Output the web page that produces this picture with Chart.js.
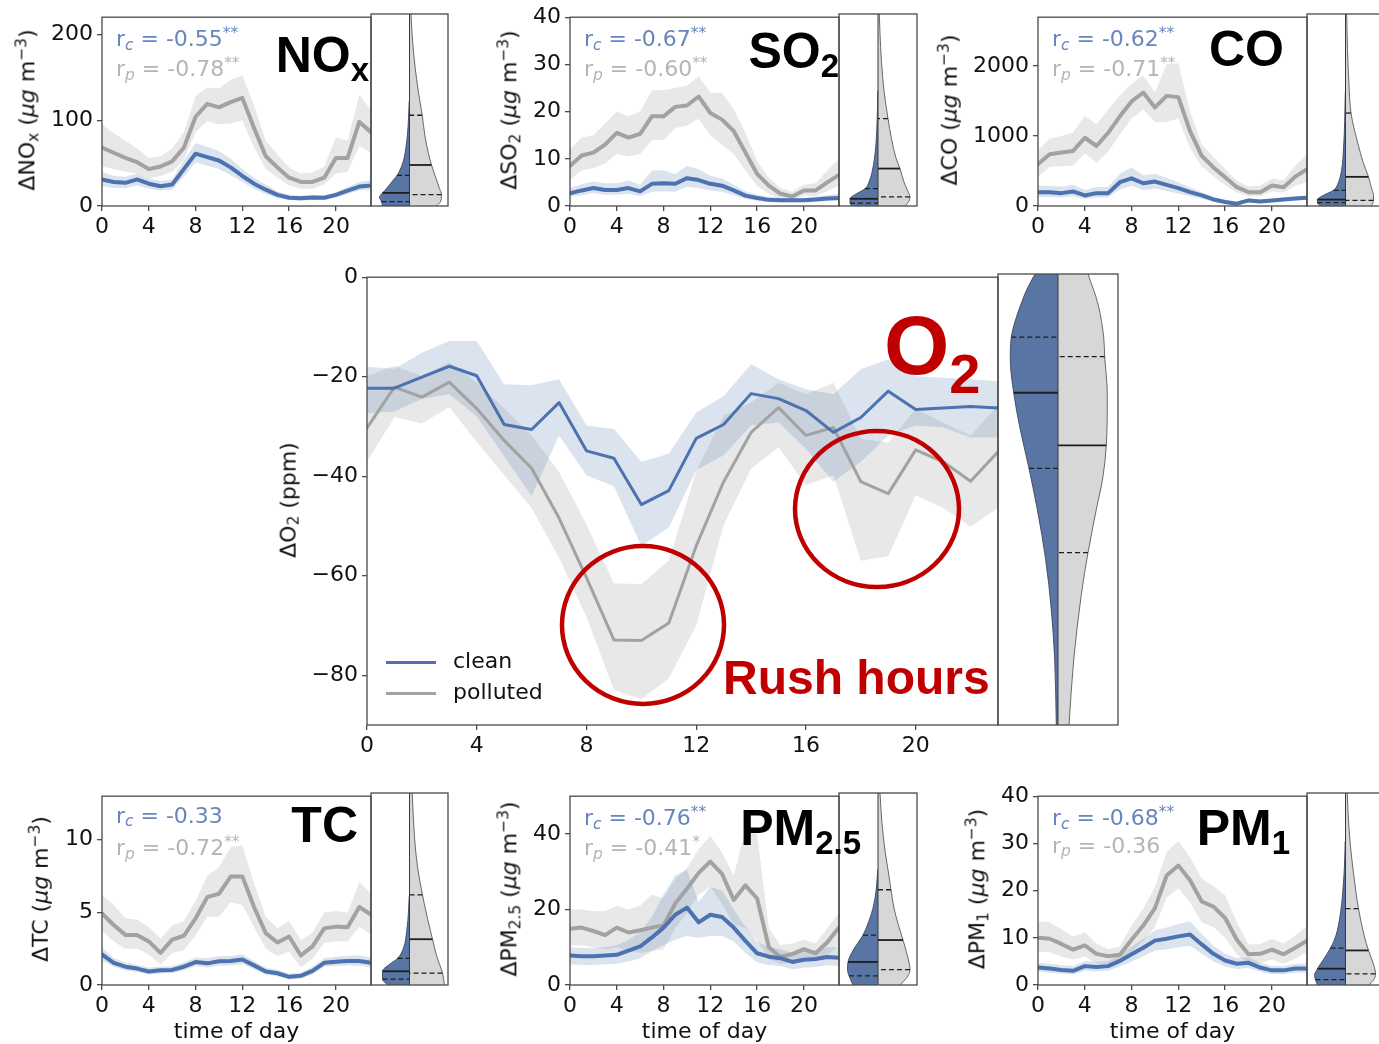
<!DOCTYPE html>
<html lang="en">
<head>
<meta charset="utf-8">
<title>Diurnal cycles of ΔO2 and co-emitted pollutants, clean vs polluted days</title>
<script src="https://cdn.jsdelivr.net/npm/chart.js@4.4.1/dist/chart.umd.min.js"></script>
<style>
  html, body { margin: 0; padding: 0; background: #fff; overflow: hidden; }
  #fig { position: relative; width: 1379px; height: 1044px; overflow: hidden; background: #fff; }
  #fig canvas { position: absolute; }
  #fig svg { position: absolute; left: 0; top: 0; }
  .txt { position: absolute; white-space: nowrap; line-height: 1; font-family: "DejaVu Sans", sans-serif; font-size: 22px; color: #111; }
  .ttl { font-family: "Liberation Sans", Arial, sans-serif; font-weight: bold; color: #000; }
  .red { color: #C00000; }
  .sub { font-size: 0.7em; vertical-align: -0.22em; }
  .sup { font-size: 0.7em; vertical-align: 0.55em; }
  .key { position: absolute; height: 3px; }
</style>
</head>
<body>
<div id="fig"></div>
<script>
// ---------------- data ----------------
const HOURS = [0,1,2,3,4,5,6,7,8,9,10,11,12,13,14,15,16,17,18,19,20,21,22,23];
const X_TICKS = [0, 4, 8, 12, 16, 20];

// NOx (µg m-3)
const NOX_CLEAN    = [31,28,27,31,26,23,25,43,61,57,53,45,35,26,19,13,9.6,9,10,9.6,13,18,22.6,24];
const NOX_CLEAN_HI = [40,35,34,38,32,29,31,53,73,69,64,55,43,33,25,17,13,12,13,12,16,22,28,30];
const NOX_CLEAN_LO = [23,21,21,24,20,18,19,34,51,47,43,36,28,20,14,9,7,6,7,7,10,14,18,19];
const NOX_POLL     = [68,62,56,51,43,46,52,68,104,119,115,121,126,91,58,45,33,28,28,33,56,56,98,86];
const NOX_POLL_HI  = [95,85,76,67,56,58,67,86,128,138,137,147,152,117,76,60,45,38,39,46,80,76,130,112];
const NOX_POLL_LO  = [46,43,40,38,32,35,40,54,86,99,95,96,100,68,43,33,24,20,20,25,38,40,70,62];
const NOX_Y_TICKS  = [0, 100, 200];
const NOX_R        = ['-0.55', '**', '-0.78', '**'];
const NOX_VIO_CLEAN = [[0,27],[5,28],[10,30],[15,27],[20,23],[30,16],[35,12.5],[40,10],[50,6.5],[60,4.5],[80,2.2],[100,1],[120,0.3]];
const NOX_VIO_POLL  = [[0,27],[5,31],[13,32],[20,30],[30,27],[47,22],[60,19],[80,15.5],[104,12.7],[130,9],[160,5.5],[190,3],[220,1.5]];
const NOX_Q_CLEAN   = [[5,28],[15,27],[35,12.5]];
const NOX_Q_POLL    = [[13,32],[47,22],[104,12.7]];

// SO2 (µg m-3)
const SO2_CLEAN    = [2.7,3.3,3.8,3.4,3.4,3.8,3.1,4.7,4.8,4.7,5.9,5.5,4.7,4.3,3.3,2.2,1.7,1.3,1.2,1.2,1.2,1.4,1.6,1.7];
const SO2_CLEAN_HI = [3.8,4.6,5.2,4.8,4.8,5.4,4.5,7.5,7.6,6.8,8.5,7.8,6.4,5.8,4.5,3.1,2.4,1.9,1.7,1.7,1.7,2.0,2.3,2.6];
const SO2_CLEAN_LO = [1.9,2.3,2.7,2.4,2.4,2.6,2.1,3.0,3.1,3.0,4.0,3.8,3.3,3.0,2.3,1.5,1.1,0.8,0.8,0.8,0.8,0.9,1.0,1.1];
const SO2_POLL     = [8.5,10.7,11.3,13,15.5,14.5,15.3,19,19,21,21.3,23.2,19.7,18.3,15.9,11.3,6.8,4.3,2.6,2.0,3.3,3.3,5.0,6.6];
const SO2_POLL_HI  = [12,14.5,15,17.5,20,19,20,24.5,24.5,25,25.5,27.5,24,24,20.5,15.5,9.5,6,3.8,3,4.5,4.8,7.5,10];
const SO2_POLL_LO  = [5.5,7.5,8,9,11,10.5,11,14,14,16.5,17,18.5,15,13,11,7.5,4.2,2.6,1.4,1.1,2.2,2.1,3.2,4.3];
const SO2_Y_TICKS  = [0, 10, 20, 30, 40];
const SO2_R        = ['-0.67', '**', '-0.60', '**'];
const SO2_VIO_CLEAN = [[0,26],[0.6,28],[1.5,28],[2.5,22],[3.6,13],[5,9],[7,6],[10,3.5],[13,2],[18,0.8],[24,0.2]];
const SO2_VIO_POLL  = [[0,27],[1,31],[1.9,32],[3,30],[5,26],[7.8,22],[10,18],[14,13.5],[18.2,10],[24,6],[30,3.5],[36,2],[40,1.3]];
const SO2_Q_CLEAN   = [[0.6,28],[1.5,28],[3.6,13]];
const SO2_Q_POLL    = [[1.9,32],[7.8,22],[18.2,10]];

// CO (µg m-3)
const CO_CLEAN    = [198,198,184,208,151,184,184,340,396,325,349,302,255,198,151,94,57,33,80,66,80,94,108,118];
const CO_CLEAN_HI = [290,290,275,305,230,270,270,460,550,440,460,400,340,265,200,130,85,60,110,95,105,125,140,150];
const CO_CLEAN_LO = [130,130,120,140,100,120,120,240,290,230,250,215,180,140,105,62,35,15,55,45,55,65,78,88];
const CO_POLL     = [600,740,764,788,976,858,1047,1283,1495,1623,1410,1575,1557,1071,717,552,410,269,198,198,292,269,420,528];
const CO_POLL_HI  = [800,960,1000,1050,1290,1170,1380,1580,1750,1870,1620,2030,2040,1350,880,700,530,360,280,290,390,370,580,740];
const CO_POLL_LO  = [420,560,570,580,750,620,780,1020,1250,1380,1200,1200,1250,830,560,430,300,190,140,140,210,190,290,340];
const CO_Y_TICKS  = [0, 1000, 2000];
const CO_R        = ['-0.62', '**', '-0.71', '**'];
const CO_VIO_CLEAN = [[0,25],[47,28],[90,28],[150,22],[220,12],[300,8],[500,4],[800,2],[1200,0.8],[1600,0.2]];
const CO_VIO_POLL  = [[0,26],[80,28],[150,28],[250,26],[410,23],[600,18],[900,12],[1307,5.5],[1700,3.5],[2200,2],[2700,1.2]];
const CO_Q_CLEAN   = [[47,28],[90,28],[220,12]];
const CO_Q_POLL    = [[80,28],[410,23],[1307,5.5]];

// O2 (ppm)
const O2_CLEAN    = [-22.3,-22.3,-20.1,-17.9,-19.8,-29.6,-30.6,-25.2,-34.9,-36.4,-45.7,-42.9,-32.4,-29.6,-23.4,-24.4,-26.8,-31.2,-28.2,-22.9,-26.6,-26.3,-26.0,-26.3];
const O2_CLEAN_HI = [-18,-18.4,-15.2,-12.8,-12.8,-21.5,-21.7,-20.5,-29.8,-30.5,-37.1,-35.5,-27.2,-23.9,-17.5,-20.5,-22.5,-23.5,-18.5,-16.5,-19.9,-20.2,-20.5,-20.9];
const O2_CLEAN_LO = [-27.4,-27,-24.5,-23.5,-28,-36,-44,-31.8,-39.8,-42,-54,-50.3,-38.8,-35.8,-29.8,-29.2,-34.5,-41.1,-37.1,-31.8,-29.8,-30.2,-32.2,-32.2];
const O2_POLL     = [-30.3,-22.1,-24.1,-21.1,-26.4,-32.8,-38.4,-48.4,-60.4,-72.9,-73,-69.5,-54,-41.1,-31.2,-26.2,-31.8,-30.2,-41.1,-43.5,-34.7,-37.1,-41.0,-35.1];
const O2_POLL_HI  = [-19.9,-17.8,-19.9,-17.1,-21.1,-26.4,-31.8,-39.1,-49.7,-61.5,-61.7,-57,-39,-27.8,-25.2,-21.2,-23.5,-21.2,-32.5,-33.2,-26.5,-29.2,-31.8,-25.8];
const O2_POLL_LO  = [-37.1,-28.1,-29.4,-26.1,-33.1,-39.8,-46.4,-56.4,-68.3,-82.9,-84.8,-80.6,-70,-49.8,-38.5,-34.2,-41.8,-39.8,-57,-56.1,-43.8,-46.4,-50.1,-46.4];
const O2_Y_TICKS  = [-80, -60, -40, -20, 0];
const O2_VIO_CLEAN = [[-90,1.7],[-77,3.3],[-67,6.7],[-57,12.3],[-47,20.7],[-38.8,29],[-30.5,38.3],[-23.7,44.3],[-17,47.7],[-12.6,46.7],[-9.5,43],[-6,37],[-3,31],[0,23]];
const O2_VIO_POLL  = [[-90,11],[-77,15.7],[-64,23.3],[-55.6,30],[-47,38.3],[-40.4,45],[-34.2,48.3],[-24,49.3],[-16.5,46.7],[-12.6,45.7],[-6,40],[0,30]];
const O2_Q_CLEAN   = [[-38.8,29],[-23.7,44.3],[-12.6,46.7]];
const O2_Q_POLL    = [[-55.6,30],[-34.2,48.3],[-16.5,46.7]];

// TC (µg m-3)
const TC_CLEAN    = [2.1,1.53,1.26,1.13,0.93,1.02,1.04,1.26,1.58,1.49,1.63,1.65,1.76,1.35,0.93,0.81,0.56,0.63,0.97,1.53,1.6,1.65,1.65,1.53];
const TC_CLEAN_HI = [2.6,1.85,1.55,1.4,1.18,1.27,1.3,1.55,1.9,1.85,1.98,2.0,2.1,1.65,1.18,1.05,0.78,0.85,1.25,1.85,1.95,2.0,2.05,1.9];
const TC_CLEAN_LO = [1.7,1.25,1.0,0.9,0.72,0.8,0.82,1.0,1.3,1.2,1.32,1.35,1.45,1.08,0.72,0.6,0.38,0.44,0.74,1.25,1.3,1.35,1.33,1.22];
const TC_POLL     = [4.92,4.13,3.45,3.45,3.0,2.21,3.12,3.39,4.58,6.05,6.28,7.47,7.47,5.37,3.57,2.93,3.34,2.03,2.66,3.9,4.02,3.97,5.37,4.85];
const TC_POLL_HI  = [6.2,5.5,4.6,4.5,4.0,3.2,4.1,4.4,5.8,7.5,8.1,9.5,9.6,7.0,4.7,3.9,4.4,3.1,3.6,5.0,5.1,5.0,7.1,6.3];
const TC_POLL_LO  = [3.7,3.0,2.5,2.5,2.1,1.4,2.2,2.4,3.4,4.7,4.7,5.7,5.5,4.0,2.5,2.0,2.3,1.2,1.8,2.9,3.0,3.0,4.0,3.5];
const TC_Y_TICKS  = [0, 5, 10];
const TC_R        = ['-0.33', '', '-0.72', '**'];
const TC_VIO_CLEAN = [[0,22],[0.4,27],[0.93,27],[1.4,20],[1.8,12],[2.5,6],[3.7,2.7],[5,1],[6,0.3]];
const TC_VIO_POLL  = [[0,35],[0.8,33],[2,27],[3.1,23],[4.5,18],[6.1,13],[8,8],[10,5],[13,2.7]];
const TC_Q_CLEAN   = [[0.4,27],[0.93,27],[1.8,12]];
const TC_Q_POLL    = [[0.8,33],[3.1,23],[6.1,13]];

// PM2.5 (µg m-3)
const PM25_CLEAN    = [7.8,7.6,7.6,7.8,8.0,9.1,10.2,12.6,15.2,18.6,20.5,16.6,18.6,18.0,15.2,11.7,8.4,7.5,7.1,6.1,6.7,6.9,7.4,7.2];
const PM25_CLEAN_HI = [10,9.8,9.8,10,10.5,12,14,18,24,29,30.5,22,26,25,20,15.5,11.5,10,9.5,8.5,9,9.2,10,10];
const PM25_CLEAN_LO = [5.5,5.3,5.3,5.5,5.6,6.2,7,9,10.5,12,13,12.5,13,13,11.5,8.5,6,5.3,5,4.2,4.6,4.8,5.2,5];
const PM25_POLL     = [14.9,15.2,14.3,13.2,15.2,13.9,14.5,15.2,15.8,21.6,25.5,29.7,32.7,29.4,22.5,26.4,22.9,10.0,7.4,8.2,9.5,8.4,11.3,15.2];
const PM25_POLL_HI  = [20,20,19.5,19.5,21,20,21,24,23,28,31,36,39.5,35,29,41,40,15,10.5,11,12,11,15,19];
const PM25_POLL_LO  = [10.5,10.5,10,9.5,10,9,8.5,9,9.5,15,19,24,26,21.5,16,15,12,7,5.5,6,7,6.5,8,10.5];
const PM25_Y_TICKS  = [0, 20, 40];
const PM25_R        = ['-0.76', '**', '-0.41', '*'];
const PM25_VIO_CLEAN = [[0,25],[2.4,29],[4,30.5],[6,30],[9,25],[13,15],[16,10],[20,5],[25,1.7],[30,0.3]];
const PM25_VIO_POLL  = [[0,22],[2,29],[4,32],[7,30],[11.7,25],[16,20],[20,16],[24.8,13],[30,10],[35,7],[42,4],[50,2]];
const PM25_Q_CLEAN   = [[2.4,29],[6,30],[13,15]];
const PM25_Q_POLL    = [[4,32],[11.7,25],[24.8,13]];

// PM1 (µg m-3)
const PM1_CLEAN    = [3.7,3.5,3.2,3.0,4.0,3.8,4.0,5.1,6.5,7.9,9.4,9.8,10.3,10.7,8.6,6.6,5.2,4.5,4.7,3.7,3.1,3.1,3.5,3.5];
const PM1_CLEAN_HI = [4.7,4.5,4.2,4.0,5.1,4.9,5.1,6.4,8.1,9.8,11.6,12.2,12.9,13.5,10.8,8.3,6.6,5.7,5.9,4.7,4.0,4.0,4.5,4.5];
const PM1_CLEAN_LO = [2.8,2.6,2.4,2.2,3.0,2.9,3.0,3.9,5.0,6.1,7.3,7.6,8.0,8.3,6.6,5.0,3.9,3.4,3.6,2.8,2.3,2.3,2.6,2.6];
const PM1_POLL     = [10.0,9.8,8.7,7.5,8.4,6.6,6.1,6.4,9.6,12.6,16.3,23.2,25.3,22.2,17.7,16.6,14.2,9.6,6.5,6.6,7.5,6.5,7.9,9.4];
const PM1_POLL_HI  = [13.5,13.3,11.8,10.2,11.2,8.8,7.6,8.2,12.6,16.2,20.8,28.2,30.5,27,22.5,21,19,13.3,8.6,8.7,9.8,8.8,10.5,12.5];
const PM1_POLL_LO  = [7.0,7.0,6.0,5.4,6.0,4.6,4.4,4.6,7.0,9.4,12.3,18.5,20.5,17.5,13.3,12.3,10,6.5,4.5,4.6,5.4,4.5,5.6,7.0];
const PM1_Y_TICKS  = [0, 10, 20, 30, 40];
const PM1_R        = ['-0.68', '**', '-0.36', ''];
const PM1_VIO_CLEAN = [[0,28],[1.1,30],[2,31],[3.4,28],[5,23],[7.7,15],[10,10],[15,5],[20,2.5],[25,1],[30,0.3]];
const PM1_VIO_POLL  = [[0,23],[1,28],[2.3,30],[4,28.5],[7.2,23],[10,19],[15.9,13],[20,10],[25,7],[30,4.5],[35,2.8],[40,1.7]];
const PM1_Q_CLEAN   = [[1.1,30],[3.4,28],[7.7,15]];
const PM1_Q_POLL    = [[2.3,30],[7.2,23],[15.9,13]];

// ---------------- styling ----------------
const CLEAN = '#4C72B0';
const POLL = '#A2A2A2';
const CLEAN_BAND = 'rgba(76,114,176,0.2)';
const POLL_BAND = 'rgba(150,150,150,0.22)';
const VIO_CLEAN = '#5975A4';
const VIO_POLL = '#D7D7D7';
const FRAME = '#4a4a4a';
const R_CLEAN_COLOR = '#6686BC';
const R_POLL_COLOR = '#B5B5B5';

Chart.defaults.font.family = "'DejaVu Sans', sans-serif";
Chart.defaults.font.size = 22;
Chart.defaults.color = '#111';

const fig = document.getElementById('fig');

const framePlugin = {
  id: 'frame',
  afterDatasetsDraw(chart) {
    const { ctx, chartArea: a } = chart;
    ctx.save();
    ctx.strokeStyle = FRAME;
    ctx.lineWidth = 1.3;
    ctx.strokeRect(a.left, a.top, a.right - a.left, a.bottom - a.top);
    ctx.restore();
  }
};

function addCanvas(left, top, w, h) {
  const c = document.createElement('canvas');
  c.width = w; c.height = h;
  c.style.left = left + 'px'; c.style.top = top + 'px';
  c.style.width = w + 'px'; c.style.height = h + 'px';
  fig.appendChild(c);
  return c;
}

function addText(html, x, y, cls, transform, extra) {
  const d = document.createElement('div');
  d.className = 'txt ' + (cls || '');
  d.innerHTML = html;
  d.style.left = x + 'px';
  d.style.top = y + 'px';
  if (transform) { d.style.transform = transform; d.style.transformOrigin = '0 0'; }
  if (extra) Object.assign(d.style, extra);
  fig.appendChild(d);
  return d;
}

const minusFmt = v => (v < 0 ? '\u2212' + Math.abs(v) : String(v));

// diurnal line panel: mean lines with shaded uncertainty bands
function linePanel(p) {
  const AXW = 90, AXH = 40, PT = 14, PR = 2;
  const w = AXW + (p.r - p.l) + PR;
  const h = PT + (p.b - p.t) + AXH;
  const cv = addCanvas(p.l - AXW, p.t - PT, w, h);
  const hidden = { borderWidth: 0, borderColor: 'rgba(0,0,0,0)', pointRadius: 0 };
  new Chart(cv, {
    type: 'line',
    data: {
      labels: HOURS,
      datasets: [
        { data: p.clean, borderColor: CLEAN, borderWidth: p.lw, pointRadius: 0, fill: false },
        { data: p.poll, borderColor: POLL, borderWidth: p.lw, pointRadius: 0, fill: false },
        Object.assign({ data: p.cleanHi, fill: false }, hidden),
        Object.assign({ data: p.cleanLo, fill: '-1', backgroundColor: CLEAN_BAND }, hidden),
        Object.assign({ data: p.pollHi, fill: false }, hidden),
        Object.assign({ data: p.pollLo, fill: '-1', backgroundColor: POLL_BAND }, hidden)
      ]
    },
    options: {
      responsive: false,
      animation: false,
      devicePixelRatio: 1,
      layout: { padding: { top: PT, right: PR, left: 0, bottom: 0 } },
      elements: { line: { tension: 0, borderJoinStyle: 'round', borderCapStyle: 'round' } },
      plugins: { legend: { display: false }, tooltip: { enabled: false } },
      scales: {
        x: {
          type: 'linear', min: 0, max: 23,
          afterFit: s => { s.height = AXH; },
          afterBuildTicks: s => { s.ticks = X_TICKS.map(v => ({ value: v })); },
          ticks: { padding: 3, maxRotation: 0, autoSkip: false, color: '#111' },
          grid: { drawOnChartArea: false, drawTicks: true, tickLength: 5, color: FRAME, lineWidth: 1.3 },
          border: { display: false }
        },
        y: {
          type: 'linear', min: p.ymin, max: p.ymax,
          afterFit: s => { s.width = AXW; },
          afterBuildTicks: s => { s.ticks = p.yTicks.map(v => ({ value: v })); },
          ticks: { padding: 4, callback: minusFmt, color: '#111' },
          grid: { drawOnChartArea: false, drawTicks: true, tickLength: 5, color: FRAME, lineWidth: 1.3 },
          border: { display: false }
        }
      }
    },
    plugins: [framePlugin]
  });
}

// split violin: clean half to the left, polluted half to the right
function violinPanel(v) {
  const half = (v.r - v.l) / 2;
  const cv = addCanvas(v.l - 1, v.t - 1, v.r - v.l + 2, v.b - v.t + 2);
  const vals = v.clean.concat(v.poll).map(d => d[0]);
  const lo = Math.min(...vals), hi = Math.max(...vals);
  const sets = [];
  const qLine = (q, sign, idx) => ({
    data: [{ x: sign * q[1], y: q[0] }, { x: 0, y: q[0] }],
    borderColor: '#1e1e1e',
    borderWidth: idx === 1 ? 1.8 : 1.3,
    borderDash: idx === 1 ? [] : [5, 3],
    pointRadius: 0, fill: false, tension: 0
  });
  v.qClean.forEach((q, i) => sets.push(qLine(q, -1, i)));
  v.qPoll.forEach((q, i) => sets.push(qLine(q, 1, i)));
  sets.push({ data: [{ x: 0, y: lo }, { x: 0, y: hi }], borderColor: '#3a3a3a', borderWidth: 1, pointRadius: 0, fill: false, tension: 0 });
  sets.push({
    data: v.clean.map(d => ({ x: -d[1], y: d[0] })),
    borderColor: '#3c4660', borderWidth: 0.9, backgroundColor: VIO_CLEAN,
    fill: 'origin', pointRadius: 0, cubicInterpolationMode: 'monotone'
  });
  sets.push({
    data: v.poll.map(d => ({ x: d[1], y: d[0] })),
    borderColor: '#5a5a5a', borderWidth: 0.9, backgroundColor: VIO_POLL,
    fill: 'origin', pointRadius: 0, cubicInterpolationMode: 'monotone'
  });
  new Chart(cv, {
    type: 'line',
    data: { datasets: sets },
    options: {
      indexAxis: 'y',
      responsive: false,
      animation: false,
      devicePixelRatio: 1,
      layout: { padding: 1 },
      plugins: { legend: { display: false }, tooltip: { enabled: false } },
      scales: {
        x: { type: 'linear', min: -half, max: half, display: false },
        y: { type: 'linear', min: v.ymin, max: v.ymax, display: false }
      }
    },
    plugins: [framePlugin]
  });
}

function corrLabels(c, x, top) {
  addText('r<span class="sub"><i>c</i></span> = ' + c[0] + (c[1] ? '<span class="sup">' + c[1] + '</span>' : ''),
          x, top + 12, '', null, { color: R_CLEAN_COLOR });
  addText('r<span class="sub"><i>p</i></span> = ' + c[2] + (c[3] ? '<span class="sup">' + c[3] + '</span>' : ''),
          x, top + 42, '', null, { color: R_POLL_COLOR });
}

function yTitle(html, cx, cy) {
  addText(html, cx, cy, '', 'rotate(-90deg) translate(-50%, -50%)');
}

function bigTitle(html, right, baseline, size) {
  addText(html, right, baseline - 0.846 * size, 'ttl', 'translateX(-100%)', { fontSize: size + 'px' });
}

const UNIT = ' (<i>\u03bcg</i> m<span class="sup">\u22123</span>)';

const PANELS = [
  { l: 102, r: 371, t: 14, b: 206, vr: 448, ymin: 0, ymax: 220, yTicks: NOX_Y_TICKS,
    clean: NOX_CLEAN, cleanHi: NOX_CLEAN_HI, cleanLo: NOX_CLEAN_LO, poll: NOX_POLL, pollHi: NOX_POLL_HI, pollLo: NOX_POLL_LO,
    vClean: NOX_VIO_CLEAN, vPoll: NOX_VIO_POLL, qClean: NOX_Q_CLEAN, qPoll: NOX_Q_POLL, corr: NOX_R,
    yTitle: '\u0394NO<span class="sub">x</span>' + UNIT, ytx: 28,
    title: 'NO<span style="font-size:33px;vertical-align:-9px">x</span>', tr: 369, tb: 72 },
  { l: 570, r: 839, t: 14, b: 206, vr: 917, ymin: 0, ymax: 40, yTicks: SO2_Y_TICKS,
    clean: SO2_CLEAN, cleanHi: SO2_CLEAN_HI, cleanLo: SO2_CLEAN_LO, poll: SO2_POLL, pollHi: SO2_POLL_HI, pollLo: SO2_POLL_LO,
    vClean: SO2_VIO_CLEAN, vPoll: SO2_VIO_POLL, qClean: SO2_Q_CLEAN, qPoll: SO2_Q_POLL, corr: SO2_R,
    yTitle: '\u0394SO<span class="sub">2</span>' + UNIT, ytx: 510,
    title: 'SO<span style="font-size:33px;vertical-align:-9px">2</span>', tr: 839, tb: 68 },
  { l: 1038, r: 1307, t: 14, b: 206, vr: 1384, ymin: 0, ymax: 2700, yTicks: CO_Y_TICKS,
    clean: CO_CLEAN, cleanHi: CO_CLEAN_HI, cleanLo: CO_CLEAN_LO, poll: CO_POLL, pollHi: CO_POLL_HI, pollLo: CO_POLL_LO,
    vClean: CO_VIO_CLEAN, vPoll: CO_VIO_POLL, qClean: CO_Q_CLEAN, qPoll: CO_Q_POLL, corr: CO_R,
    yTitle: '\u0394CO' + UNIT, ytx: 949,
    title: 'CO', tr: 1284, tb: 66 },
  { l: 102, r: 371, t: 793, b: 985, vr: 448, ymin: 0, ymax: 13, yTicks: TC_Y_TICKS,
    clean: TC_CLEAN, cleanHi: TC_CLEAN_HI, cleanLo: TC_CLEAN_LO, poll: TC_POLL, pollHi: TC_POLL_HI, pollLo: TC_POLL_LO,
    vClean: TC_VIO_CLEAN, vPoll: TC_VIO_POLL, qClean: TC_Q_CLEAN, qPoll: TC_Q_POLL, corr: TC_R,
    yTitle: '\u0394TC' + UNIT, ytx: 40,
    title: 'TC', tr: 358, tb: 842, xTitle: true },
  { l: 570, r: 839, t: 793, b: 985, vr: 917, ymin: 0, ymax: 50, yTicks: PM25_Y_TICKS,
    clean: PM25_CLEAN, cleanHi: PM25_CLEAN_HI, cleanLo: PM25_CLEAN_LO, poll: PM25_POLL, pollHi: PM25_POLL_HI, pollLo: PM25_POLL_LO,
    vClean: PM25_VIO_CLEAN, vPoll: PM25_VIO_POLL, qClean: PM25_Q_CLEAN, qPoll: PM25_Q_POLL, corr: PM25_R,
    yTitle: '\u0394PM<span class="sub">2.5</span>' + UNIT, ytx: 510,
    title: 'PM<span style="font-size:33px;vertical-align:-9px">2.5</span>', tr: 861, tb: 845, xTitle: true },
  { l: 1038, r: 1307, t: 793, b: 985, vr: 1384, ymin: 0, ymax: 40, yTicks: PM1_Y_TICKS,
    clean: PM1_CLEAN, cleanHi: PM1_CLEAN_HI, cleanLo: PM1_CLEAN_LO, poll: PM1_POLL, pollHi: PM1_POLL_HI, pollLo: PM1_POLL_LO,
    vClean: PM1_VIO_CLEAN, vPoll: PM1_VIO_POLL, qClean: PM1_Q_CLEAN, qPoll: PM1_Q_POLL, corr: PM1_R,
    yTitle: '\u0394PM<span class="sub">1</span>' + UNIT, ytx: 978,
    title: 'PM<span style="font-size:33px;vertical-align:-9px">1</span>', tr: 1290, tb: 845, xTitle: true }
];

PANELS.forEach(p => {
  linePanel(Object.assign({ lw: 4 }, p));
  violinPanel({ l: p.r, r: p.vr, t: p.t, b: p.b, ymin: p.ymin, ymax: p.ymax,
                clean: p.vClean, poll: p.vPoll, qClean: p.qClean, qPoll: p.qPoll });
  corrLabels(p.corr, p.l + 14, p.t);
  yTitle(p.yTitle, p.ytx, (p.t + p.b) / 2);
  bigTitle(p.title, p.tr, p.tb, 50);
  if (p.xTitle) addText('time of day', (p.l + p.r) / 2, 1020, '', 'translateX(-50%)');
});

// central O2 panel
const O2 = { l: 367, r: 998, t: 274, b: 725, vr: 1118 };
linePanel({ l: O2.l, r: O2.r, t: O2.t, b: O2.b, ymin: -90, ymax: 0, yTicks: O2_Y_TICKS, lw: 3,
            clean: O2_CLEAN, cleanHi: O2_CLEAN_HI, cleanLo: O2_CLEAN_LO,
            poll: O2_POLL, pollHi: O2_POLL_HI, pollLo: O2_POLL_LO });
violinPanel({ l: O2.r, r: O2.vr, t: O2.t, b: O2.b, ymin: -90, ymax: 0,
              clean: O2_VIO_CLEAN, poll: O2_VIO_POLL, qClean: O2_Q_CLEAN, qPoll: O2_Q_POLL });
yTitle('\u0394O<span class="sub">2</span> (ppm)', 290, (O2.t + O2.b) / 2);

// legend
[['clean', CLEAN, 662], ['polluted', POLL, 693]].forEach(([label, color, y]) => {
  const k = document.createElement('div');
  k.className = 'key';
  Object.assign(k.style, { left: '386px', top: (y - 1.5) + 'px', width: '50px', background: color });
  fig.appendChild(k);
  addText(label, 453, y - 12);
});

// annotations
const svgNS = 'http://www.w3.org/2000/svg';
const svg = document.createElementNS(svgNS, 'svg');
svg.setAttribute('width', 1379); svg.setAttribute('height', 1044);
[[643, 625, 81, 79], [877, 509, 82, 78]].forEach(([cx, cy, rx, ry]) => {
  const e = document.createElementNS(svgNS, 'ellipse');
  e.setAttribute('cx', cx); e.setAttribute('cy', cy);
  e.setAttribute('rx', rx); e.setAttribute('ry', ry);
  e.setAttribute('fill', 'none'); e.setAttribute('stroke', '#C00000'); e.setAttribute('stroke-width', 4.5);
  svg.appendChild(e);
});
fig.appendChild(svg);
addText('O<span style="font-size:56px;vertical-align:-19px">2</span>', 884, 374 - 0.846 * 84, 'ttl red', null, { fontSize: '84px' });
addText('Rush hours', 723, 695 - 0.846 * 48, 'ttl red', null, { fontSize: '48px' });
</script>
</body>
</html>
